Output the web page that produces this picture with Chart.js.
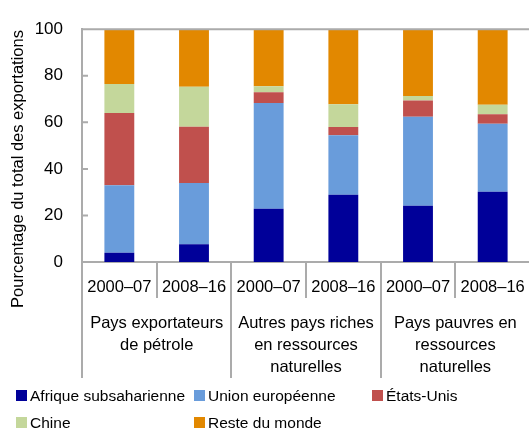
<!DOCTYPE html>
<html>
<head>
<meta charset="utf-8">
<script src="https://cdn.jsdelivr.net/npm/chart.js@4"></script>
<style>
  body { margin: 0; background: #fff; }
  #wrap { position: relative; width: 529px; height: 430px; overflow: hidden; }
  #chart { position: absolute; left: 0; top: 0; }
  .legend { position: absolute; left: 0; top: 385px; width: 529px; font: 15.5px 'Liberation Sans', Arial, sans-serif; color: #000; }
  .legend .item { position: absolute; white-space: nowrap; line-height: 22px; }
  .legend .box { display: inline-block; width: 11px; height: 11px; margin-right: 3px; vertical-align: 0px; }
</style>
</head>
<body>
<div id="wrap">
  <canvas id="chart" width="545" height="430"></canvas>
  <div class="legend" id="legend"></div>
</div>
<script>
const FONT = "'Liberation Sans', Arial, sans-serif";
const GRAY = '#ababab';

// categories
const periods = ['2000–07', '2008–16', '2000–07', '2008–16', '2000–07', '2008–16'];
const groups = [
  ['Pays exportateurs', 'de pétrole'],
  ['Autres pays riches', 'en ressources', 'naturelles'],
  ['Pays pauvres en', 'ressources', 'naturelles']
];
const yTicks = [0, 20, 40, 60, 80, 100];

// series values (percent of total exports)
const afrique = [4.0, 7.6, 22.9, 28.9, 24.2, 30.2];
const unionEuropeenne = [29.0, 26.3, 45.4, 25.5, 38.2, 29.2];
const etatsUnis = [31.0, 24.2, 4.6, 3.6, 7.0, 4.1];
const chine = [12.5, 17.2, 2.6, 9.8, 1.9, 4.0];
const resteDuMonde = [23.5, 24.7, 24.5, 32.2, 28.7, 32.5];

const seriesNames = ['Afrique subsaharienne', 'Union européenne', 'États-Unis', 'Chine', 'Reste du monde'];
const seriesColors = ['#000099', '#699cdb', '#c0504d', '#c4d79b', '#e28800'];
const seriesData = [afrique, unionEuropeenne, etatsUnis, chine, resteDuMonde];

// separators, top frame line, inner y ticks and the y title
const decorations = {
  id: 'decorations',
  afterDraw(chart) {
    const ctx = chart.ctx;
    const xs = chart.scales.x;
    const x2 = chart.scales.x2;
    const ys = chart.scales.y;
    const area = chart.chartArea;
    ctx.save();
    ctx.strokeStyle = GRAY;
    ctx.lineWidth = 2;
    ctx.beginPath();
    for (let i = 0; i <= periods.length; i++) {
      const px = Math.round(xs.getPixelForValue(i - 0.5));
      const bottom = i % 2 === 0 ? x2.bottom : xs.bottom;
      ctx.moveTo(px, area.bottom);
      ctx.lineTo(px, bottom);
    }
    ctx.moveTo(area.left, area.top);
    ctx.lineTo(area.right, area.top);
    yTicks.forEach(v => {
      const py = ys.getPixelForValue(v);
      ctx.moveTo(area.left, py);
      ctx.lineTo(area.left + 6, py);
    });
    ctx.stroke();

    ctx.fillStyle = '#000';
    ctx.font = '16.5px ' + FONT;
    ctx.textAlign = 'center';
    ctx.textBaseline = 'middle';
    ctx.translate(18, 169);
    ctx.rotate(-Math.PI / 2);
    ctx.fillText('Pourcentage du total des exportations', 0, 0);
    ctx.restore();
  }
};

const tickFont = { family: FONT, size: 16.5, lineHeight: '22px' };

const ctx = document.getElementById('chart').getContext('2d');
new Chart(ctx, {
  type: 'bar',
  data: {
    labels: periods,
    datasets: seriesData.map((d, i) => ({
      label: seriesNames[i],
      data: d,
      backgroundColor: seriesColors[i],
      borderWidth: 0,
      barPercentage: 0.4,
      categoryPercentage: 1.0
    }))
  },
  options: {
    responsive: false,
    animation: false,
    layout: { padding: { left: 0, right: 15, top: 20, bottom: 52 } },
    plugins: {
      legend: { display: false },
      tooltip: { enabled: false }
    },
    scales: {
      x: {
        stacked: true,
        offset: true,
        grid: { display: false, drawTicks: false },
        border: { display: true, color: GRAY, width: 2 },
        ticks: { color: '#000', font: tickFont, padding: 14, maxRotation: 0, autoSkip: false },
        afterFit: s => { s.height = 36; }
      },
      x2: {
        type: 'category',
        position: 'bottom',
        labels: groups,
        offset: true,
        grid: { display: false, drawTicks: false },
        border: { display: false },
        ticks: { color: '#000', font: tickFont, padding: 14, maxRotation: 0, autoSkip: false },
        afterFit: s => { s.height = 80; }
      },
      y: {
        stacked: true,
        min: 0,
        max: 100,
        afterBuildTicks: s => { s.ticks = yTicks.map(v => ({ value: v })); },
        grid: { display: false, drawTicks: false },
        border: { display: true, color: GRAY, width: 2 },
        ticks: { color: '#000', font: { family: FONT, size: 17 }, padding: 19 },
        afterFit: s => { s.width = 82; }
      }
    }
  },
  plugins: [decorations]
});

// legend laid out in three columns like the original
const legendPos = [[16, 0], [194, 0], [372, 0], [16, 27], [194, 27]];
const legend = document.getElementById('legend');
seriesNames.forEach((name, i) => {
  const item = document.createElement('div');
  item.className = 'item';
  item.style.left = legendPos[i][0] + 'px';
  item.style.top = legendPos[i][1] + 'px';
  item.innerHTML = '<span class="box" style="background:' + seriesColors[i] + '"></span>' + name;
  legend.appendChild(item);
});
</script>
</body>
</html>
